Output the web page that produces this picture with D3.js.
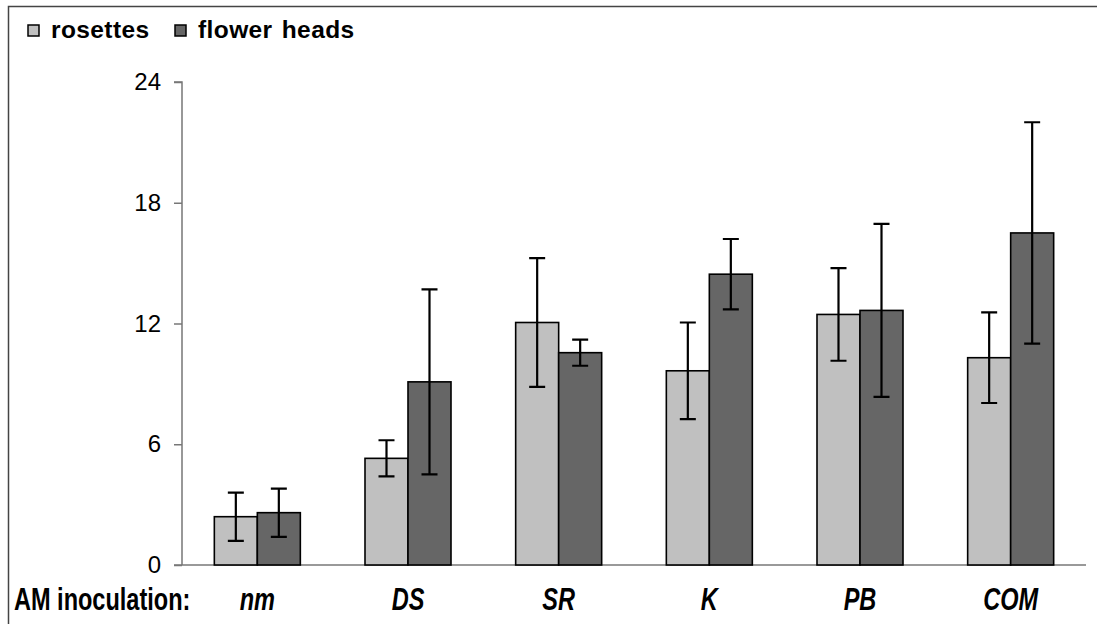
<!DOCTYPE html>
<html><head><meta charset="utf-8">
<script src="https://cdn.jsdelivr.net/npm/d3@7/dist/d3.min.js"></script>
<style>body{margin:0;background:#fff}svg{display:block}</style>
</head><body><svg id="c" width="1097" height="624"></svg>
<script>
const categories = ["nm","DS","SR","K","PB","COM"];
const seriesNames = ["rosettes","flower heads"];
const rosettes = [2.4, 5.3, 12.05, 9.65, 12.45, 10.3];
const rosettesErr = [1.2, 0.9, 3.2, 2.4, 2.3, 2.25];
const flowerHeads = [2.6, 9.1, 10.55, 14.45, 12.65, 16.5];
const flowerHeadsErr = [1.2, 4.6, 0.65, 1.75, 4.3, 5.5];
const yTicks = [0, 6, 12, 18, 24];
const colors = ["#c0c0c0", "#666666"];

const svg = d3.select("#c");
const font = "'Liberation Sans', Arial, sans-serif";

// frame
svg.append("path").attr("d","M8.5,624 V6.5 H1097").attr("fill","none").attr("stroke","#444").attr("stroke-width",1.5);

const x0 = d3.scaleBand().domain(categories).range([182, 1086]).paddingInner(0).paddingOuter(0);
const x1 = d3.scaleBand().domain(seriesNames).range([0, 86]);
const y = d3.scaleLinear().domain([0, 24]).range([565, 82]);

// y axis
const yAxis = svg.append("g").attr("transform","translate(182,0)")
  .call(d3.axisLeft(y).tickValues(yTicks).tickSize(8).tickPadding(13));
yAxis.select(".domain").attr("stroke","#777").attr("stroke-width",1.5).attr("d","M-8,"+y(24)+"H0V"+y(0));
yAxis.selectAll(".tick line").attr("stroke","#777").attr("stroke-width",1.5);
yAxis.selectAll(".tick text").attr("font-family",font).attr("font-size",24).attr("fill","#000");

// baseline
svg.append("line").attr("x1",174).attr("x2",1086).attr("y1",y(0)).attr("y2",y(0)).attr("stroke","#777").attr("stroke-width",1.5);

const data = categories.map((c,i)=>[
  {cat:c, s:seriesNames[0], v:rosettes[i], e:rosettesErr[i], col:colors[0]},
  {cat:c, s:seriesNames[1], v:flowerHeads[i], e:flowerHeadsErr[i], col:colors[1]}
]).flat();

const off = (x0.bandwidth() - 86)/2;
const g = svg.append("g");
g.selectAll("rect").data(data).enter().append("rect")
  .attr("x", d=>x0(d.cat)+off+x1(d.s))
  .attr("y", d=>y(d.v))
  .attr("width", x1.bandwidth())
  .attr("height", d=>y(0)-y(d.v))
  .attr("fill", d=>d.col).attr("stroke","#000").attr("stroke-width",1.6);

const eb = svg.append("g").attr("stroke","#000").attr("stroke-width",2.2).attr("fill","none");
data.forEach(d=>{
  const cx = x0(d.cat)+off+x1(d.s)+x1.bandwidth()/2;
  const t = y(d.v+d.e), b = y(d.v-d.e);
  eb.append("path").attr("d",`M${cx},${t}V${b}M${cx-8},${t}H${cx+8}M${cx-8},${b}H${cx+8}`);
});

// category labels (condensed)
const sx = 0.735;
svg.append("g").selectAll("text").data(categories).enter().append("text")
  .attr("transform", d=>`translate(${x0(d)+x0.bandwidth()/2},610) scale(${sx},1)`)
  .attr("text-anchor","middle").attr("font-family",font).attr("font-size",32)
  .attr("font-weight","bold").attr("font-style","italic").text(d=>d);
svg.append("text").attr("transform",`translate(14,610) scale(${sx},1)`)
  .attr("font-family",font).attr("font-size",32)
  .attr("font-weight","bold").text("AM inoculation:");

// legend
const legX = [28, 175];
seriesNames.forEach((s,i)=>{
  svg.append("rect").attr("x",legX[i]).attr("y",25).attr("width",11).attr("height",11)
    .attr("fill",colors[i]).attr("stroke","#000").attr("stroke-width",1.5);
  svg.append("text").attr("x",legX[i]+23).attr("y",38).attr("font-family",font)
    .attr("font-size",24.5).attr("letter-spacing",0.4).attr("word-spacing",2)
    .attr("font-weight","bold").text(s);
});
</script></body></html>
